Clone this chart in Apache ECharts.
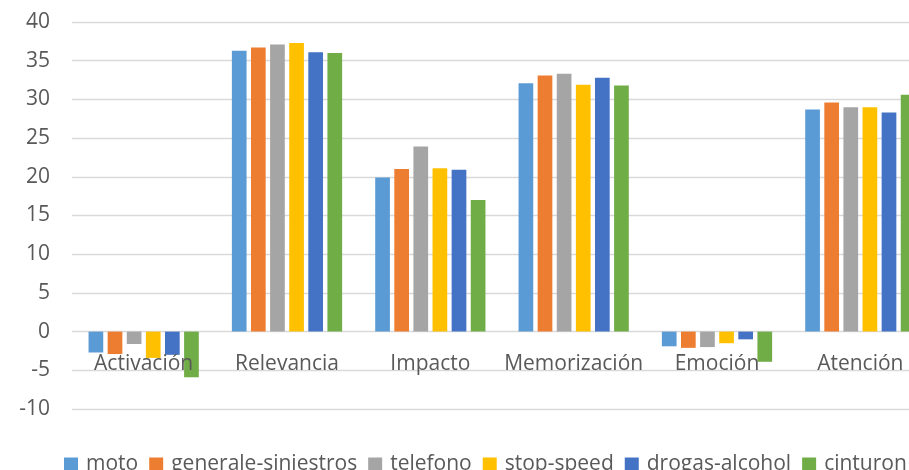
<!DOCTYPE html>
<html>
<head>
<meta charset="utf-8">
<script src="https://cdn.jsdelivr.net/npm/echarts@6/dist/echarts.min.js"></script>
<style>
  html, body { margin: 0; padding: 0; background: #ffffff; overflow: hidden; }
  #chart { width: 960px; height: 470px; }
</style>
</head>
<body>
<div id="chart"></div>
<script>
// Categories (dimensions evaluated) and one value array per campaign
const categories = ['Activación', 'Relevancia', 'Impacto', 'Memorización', 'Emoción', 'Atención'];
const seriesNames = ['moto', 'generale-siniestros', 'telefono', 'stop-speed', 'drogas-alcohol', 'cinturon'];

const moto               = [-2.7, 36.3, 19.9, 32.1, -1.9, 28.7];
const generaleSiniestros = [-2.9, 36.7, 21.0, 33.1, -2.1, 29.6];
const telefono           = [-1.6, 37.1, 23.9, 33.3, -2.0, 29.0];
const stopSpeed          = [-3.4, 37.3, 21.1, 31.9, -1.5, 29.0];
const drogasAlcohol      = [-3.0, 36.1, 20.9, 32.8, -1.0, 28.3];
const cinturon           = [-5.9, 36.0, 17.0, 31.8, -3.9, 30.6];

const yTicks = { min: -10, max: 40, interval: 5 };

const values = [moto, generaleSiniestros, telefono, stopSpeed, drogasAlcohol, cinturon];
const colors = ['#5B9BD5', '#ED7D31', '#A5A5A5', '#FFC000', '#4472C4', '#70AD47'];

const textColor = '#595959';
const gridColor = '#d9d9d9';
const fontFamily = "'Open Sans', 'DejaVu Sans', sans-serif";

// The drawing area is a little wider than the window; the last group runs off the right edge.
const chart = echarts.init(document.getElementById('chart'), null, { renderer: 'canvas' });

chart.setOption({
  animation: false,
  color: colors,
  textStyle: { fontFamily: fontFamily },
  grid: { left: 72, right: 28, top: 22, bottom: 61, containLabel: false },
  legend: {
    data: seriesNames,
    left: 59,
    top: 449,
    itemWidth: 14,
    itemHeight: 14,
    itemGap: 11,
    icon: 'rect',
    textStyle: { color: textColor, fontSize: 21, fontFamily: fontFamily, padding: [0, 0, 0, 3] }
  },
  xAxis: {
    type: 'category',
    data: categories,
    position: 'bottom',
    z: 10,
    axisLine: { show: false },
    axisTick: { show: false },
    // category names sit just under the zero line, overlapping the negative bars
    axisLabel: { color: textColor, fontSize: 21, margin: -55, interval: 0, fontFamily: fontFamily },
    splitLine: { show: false }
  },
  yAxis: {
    type: 'value',
    min: yTicks.min,
    max: yTicks.max,
    interval: yTicks.interval,
    axisLine: { show: false },
    axisTick: { show: false },
    axisLabel: { color: textColor, fontSize: 21, margin: 22, fontFamily: fontFamily },
    splitLine: { show: true, lineStyle: { color: gridColor, width: 1.3 } }
  },
  series: seriesNames.map((name, i) => ({
    name: name,
    type: 'bar',
    data: values[i],
    barWidth: 14.7,
    barGap: '30%',
    itemStyle: { color: colors[i] }
  }))
});
</script>
</body>
</html>
